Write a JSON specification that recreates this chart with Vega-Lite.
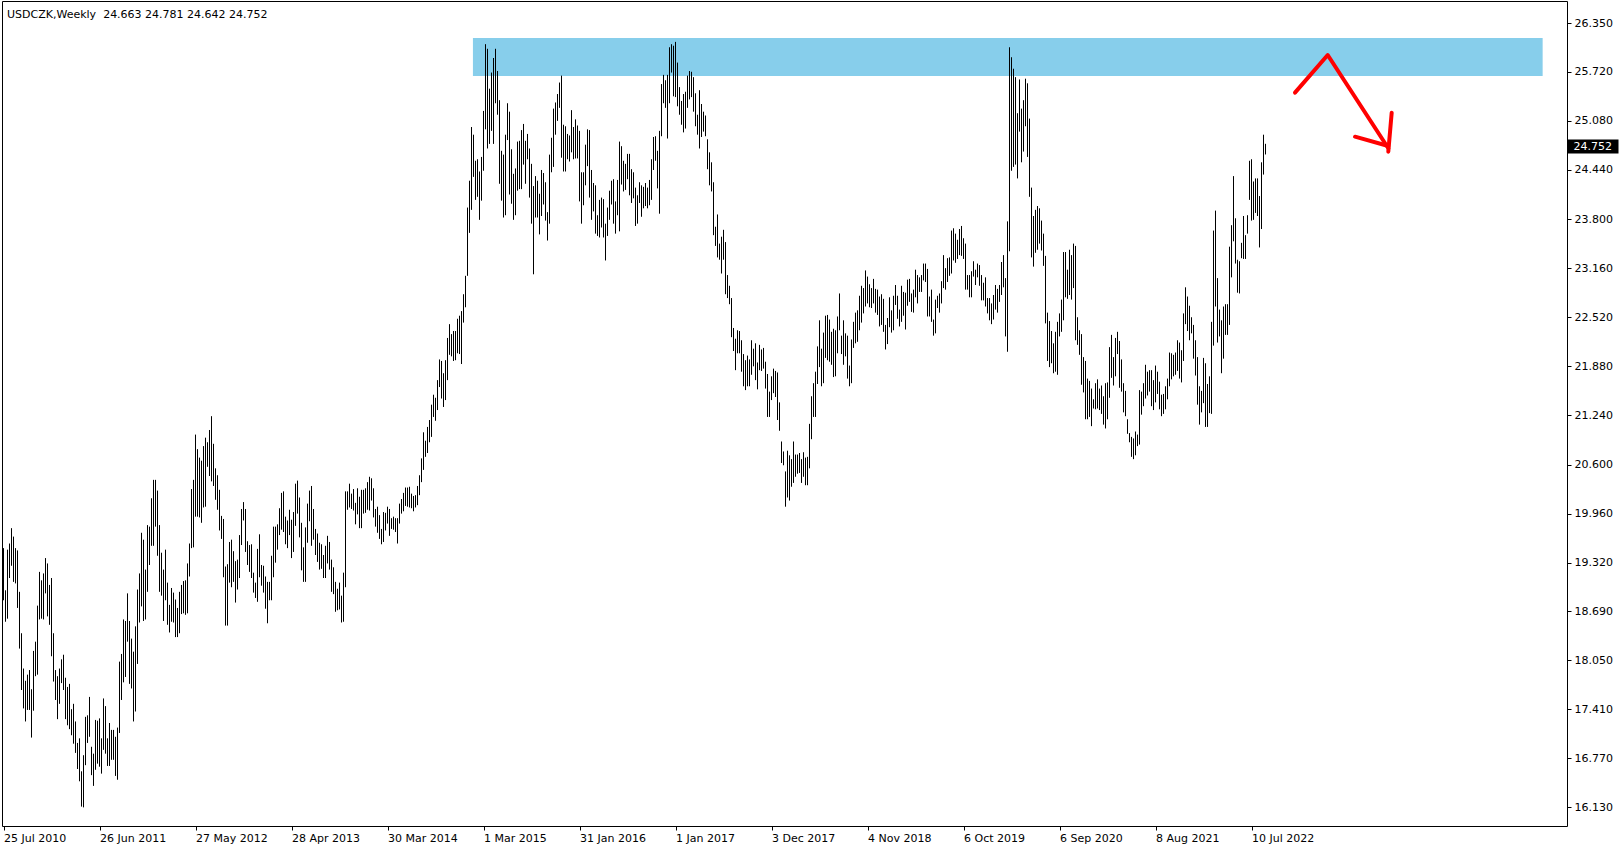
{
"$schema":"https://vega.github.io/schema/vega-lite/v6.json",
"width":1565,"height":825,
"autosize":{"type":"none"},
"padding":{"left":2,"top":1,"right":57,"bottom":24},
"background":"white",
"title":{"text":"USDCZK,Weekly\u00a0\u00a024.663 24.781 24.642 24.752","anchor":"start","frame":"group","orient":"top","offset":-16,"baseline":"alphabetic","dx":5,"dy":12,"font":"DejaVu Sans","fontSize":11,"fontWeight":"normal","color":"#000000"},
"datasets":{
"bars":[
{"d":"2010-07-25","h":19.51,"l":18.83},{"d":"2010-08-01","h":18.96,"l":18.55},{"d":"2010-08-08","h":19.49,"l":18.59},{"d":"2010-08-15","h":19.57,"l":19.12},{"d":"2010-08-22","h":19.77,"l":19.28},{"d":"2010-08-29","h":19.66,"l":19.07},{"d":"2010-09-05","h":19.51,"l":19.05},{"d":"2010-09-12","h":19.48,"l":18.73},{"d":"2010-09-19","h":18.94,"l":18.2},{"d":"2010-09-26","h":18.4,"l":17.66},
{"d":"2010-10-03","h":17.94,"l":17.42},{"d":"2010-10-10","h":17.78,"l":17.25},{"d":"2010-10-17","h":17.86,"l":17.4},{"d":"2010-10-24","h":17.92,"l":17.4},{"d":"2010-10-31","h":17.67,"l":17.04},{"d":"2010-11-07","h":18.17,"l":17.39},{"d":"2010-11-14","h":18.29,"l":17.84},{"d":"2010-11-21","h":18.76,"l":17.86},{"d":"2010-11-28","h":19.2,"l":18.58},{"d":"2010-12-05","h":19.09,"l":18.59},
{"d":"2010-12-12","h":19.18,"l":18.58},{"d":"2010-12-19","h":19.38,"l":18.92},{"d":"2010-12-26","h":19.31,"l":18.62},{"d":"2011-01-02","h":19.03,"l":18.51},{"d":"2011-01-09","h":19.12,"l":18.1},{"d":"2011-01-16","h":18.4,"l":17.77},{"d":"2011-01-23","h":17.92,"l":17.53},{"d":"2011-01-30","h":17.84,"l":17.28},{"d":"2011-02-06","h":17.94,"l":17.48},{"d":"2011-02-13","h":18.06,"l":17.75},
{"d":"2011-02-20","h":18.12,"l":17.66},{"d":"2011-02-27","h":17.82,"l":17.28},{"d":"2011-03-06","h":17.7,"l":17.2},{"d":"2011-03-13","h":17.74,"l":17.15},{"d":"2011-03-20","h":17.41,"l":17.07},{"d":"2011-03-27","h":17.48,"l":16.96},{"d":"2011-04-03","h":17.25,"l":16.84},{"d":"2011-04-10","h":16.97,"l":16.63},{"d":"2011-04-17","h":17.03,"l":16.47},{"d":"2011-04-24","h":16.6,"l":16.14},
{"d":"2011-05-01","h":16.81,"l":16.13},{"d":"2011-05-08","h":17.31,"l":16.68},{"d":"2011-05-15","h":17.33,"l":16.97},{"d":"2011-05-22","h":17.57,"l":17.05},{"d":"2011-05-29","h":16.92,"l":16.55},{"d":"2011-06-05","h":16.83,"l":16.41},{"d":"2011-06-12","h":17.27,"l":16.62},{"d":"2011-06-19","h":17.26,"l":16.7},{"d":"2011-06-26","h":17.29,"l":16.66},{"d":"2011-07-03","h":17.03,"l":16.57},
{"d":"2011-07-10","h":17.55,"l":16.88},{"d":"2011-07-17","h":17.45,"l":16.83},{"d":"2011-07-24","h":17.03,"l":16.67},{"d":"2011-07-31","h":17.23,"l":16.67},{"d":"2011-08-07","h":17.14,"l":16.75},{"d":"2011-08-14","h":17.14,"l":16.75},{"d":"2011-08-21","h":17.05,"l":16.54},{"d":"2011-08-28","h":17.17,"l":16.49},{"d":"2011-09-04","h":18.03,"l":17.1},{"d":"2011-09-11","h":18.13,"l":17.53},
{"d":"2011-09-18","h":18.58,"l":17.76},{"d":"2011-09-25","h":18.56,"l":17.83},{"d":"2011-10-02","h":18.92,"l":18.29},{"d":"2011-10-09","h":18.56,"l":17.74},{"d":"2011-10-16","h":18.33,"l":17.68},{"d":"2011-10-23","h":18.16,"l":17.25},{"d":"2011-10-30","h":18.49,"l":17.38},{"d":"2011-11-06","h":18.97,"l":18.0},{"d":"2011-11-13","h":19.18,"l":18.54},{"d":"2011-11-20","h":19.71,"l":18.75},
{"d":"2011-11-27","h":19.62,"l":18.56},{"d":"2011-12-04","h":19.23,"l":18.58},{"d":"2011-12-11","h":19.81,"l":18.94},{"d":"2011-12-18","h":19.79,"l":19.29},{"d":"2011-12-25","h":20.16,"l":19.54},{"d":"2012-01-01","h":20.4,"l":19.54},{"d":"2012-01-08","h":20.4,"l":19.79},{"d":"2012-01-15","h":20.26,"l":19.41},{"d":"2012-01-22","h":19.81,"l":18.94},{"d":"2012-01-29","h":19.45,"l":18.89},
{"d":"2012-02-05","h":19.23,"l":18.56},{"d":"2012-02-12","h":19.49,"l":18.83},{"d":"2012-02-19","h":19.06,"l":18.51},{"d":"2012-02-26","h":18.77,"l":18.41},{"d":"2012-03-04","h":18.99,"l":18.55},{"d":"2012-03-11","h":18.93,"l":18.54},{"d":"2012-03-18","h":18.84,"l":18.35},{"d":"2012-03-25","h":18.73,"l":18.35},{"d":"2012-04-01","h":18.94,"l":18.4},{"d":"2012-04-08","h":19.03,"l":18.65},
{"d":"2012-04-15","h":19.08,"l":18.66},{"d":"2012-04-22","h":19.09,"l":18.64},{"d":"2012-04-29","h":19.31,"l":18.66},{"d":"2012-05-06","h":19.57,"l":19.14},{"d":"2012-05-13","h":20.28,"l":19.51},{"d":"2012-05-20","h":20.4,"l":19.52},{"d":"2012-05-27","h":20.99,"l":19.92},{"d":"2012-06-03","h":20.8,"l":19.92},{"d":"2012-06-10","h":20.69,"l":19.91},{"d":"2012-06-17","h":20.65,"l":19.84},
{"d":"2012-06-24","h":20.84,"l":20.04},{"d":"2012-07-01","h":20.95,"l":20.05},{"d":"2012-07-08","h":20.89,"l":20.57},{"d":"2012-07-15","h":21.05,"l":20.45},{"d":"2012-07-22","h":21.23,"l":20.38},{"d":"2012-07-29","h":20.87,"l":20.32},{"d":"2012-08-05","h":20.55,"l":20.14},{"d":"2012-08-12","h":20.46,"l":20.01},{"d":"2012-08-19","h":20.27,"l":19.74},{"d":"2012-08-26","h":19.93,"l":19.63},
{"d":"2012-09-02","h":19.89,"l":19.13},{"d":"2012-09-09","h":19.27,"l":18.5},{"d":"2012-09-16","h":19.3,"l":18.5},{"d":"2012-09-23","h":19.59,"l":19.06},{"d":"2012-09-30","h":19.62,"l":19.0},{"d":"2012-10-07","h":19.47,"l":19.07},{"d":"2012-10-14","h":19.34,"l":18.8},{"d":"2012-10-21","h":19.36,"l":18.97},{"d":"2012-10-28","h":19.68,"l":19.12},{"d":"2012-11-04","h":20.02,"l":19.55},
{"d":"2012-11-11","h":20.11,"l":19.87},{"d":"2012-11-18","h":20.02,"l":19.46},{"d":"2012-11-25","h":19.6,"l":19.29},{"d":"2012-12-02","h":19.55,"l":19.2},{"d":"2012-12-09","h":19.56,"l":19.12},{"d":"2012-12-16","h":19.19,"l":18.93},{"d":"2012-12-23","h":19.06,"l":18.86},{"d":"2012-12-30","h":19.5,"l":18.81},{"d":"2013-01-06","h":19.69,"l":19.13},{"d":"2013-01-13","h":19.29,"l":19.02},
{"d":"2013-01-20","h":19.28,"l":18.93},{"d":"2013-01-27","h":19.14,"l":18.72},{"d":"2013-02-03","h":19.07,"l":18.53},{"d":"2013-02-10","h":19.07,"l":18.83},{"d":"2013-02-17","h":19.41,"l":18.83},{"d":"2013-02-24","h":19.79,"l":19.13},{"d":"2013-03-03","h":19.79,"l":19.32},{"d":"2013-03-10","h":19.82,"l":19.49},{"d":"2013-03-17","h":20.03,"l":19.68},{"d":"2013-03-24","h":20.23,"l":19.75},
{"d":"2013-03-31","h":20.25,"l":19.72},{"d":"2013-04-07","h":19.92,"l":19.56},{"d":"2013-04-14","h":19.87,"l":19.51},{"d":"2013-04-21","h":20.01,"l":19.68},{"d":"2013-04-28","h":19.88,"l":19.38},{"d":"2013-05-05","h":19.98,"l":19.46},{"d":"2013-05-12","h":20.35,"l":19.8},{"d":"2013-05-19","h":20.39,"l":19.96},{"d":"2013-05-26","h":20.17,"l":19.65},{"d":"2013-06-02","h":19.84,"l":19.22},
{"d":"2013-06-09","h":19.52,"l":19.07},{"d":"2013-06-16","h":19.78,"l":19.07},{"d":"2013-06-23","h":20.09,"l":19.58},{"d":"2013-06-30","h":20.26,"l":19.86},{"d":"2013-07-07","h":20.32,"l":19.54},{"d":"2013-07-14","h":20.02,"l":19.62},{"d":"2013-07-21","h":19.76,"l":19.42},{"d":"2013-07-28","h":19.7,"l":19.33},{"d":"2013-08-04","h":19.58,"l":19.23},{"d":"2013-08-11","h":19.56,"l":19.24},
{"d":"2013-08-18","h":19.42,"l":19.12},{"d":"2013-08-25","h":19.54,"l":19.12},{"d":"2013-09-01","h":19.67,"l":19.31},{"d":"2013-09-08","h":19.59,"l":19.23},{"d":"2013-09-15","h":19.36,"l":18.94},{"d":"2013-09-22","h":19.26,"l":18.91},{"d":"2013-09-29","h":19.07,"l":18.68},{"d":"2013-10-06","h":18.98,"l":18.7},{"d":"2013-10-13","h":19.06,"l":18.71},{"d":"2013-10-20","h":18.89,"l":18.54},
{"d":"2013-10-27","h":19.19,"l":18.55},{"d":"2013-11-03","h":20.25,"l":19.0},{"d":"2013-11-10","h":20.25,"l":20.01},{"d":"2013-11-17","h":20.35,"l":20.04},{"d":"2013-11-24","h":20.22,"l":20.02},{"d":"2013-12-01","h":20.28,"l":20.0},{"d":"2013-12-08","h":20.1,"l":19.82},{"d":"2013-12-15","h":20.29,"l":19.95},{"d":"2013-12-22","h":20.18,"l":19.77},{"d":"2013-12-29","h":20.27,"l":19.77},
{"d":"2014-01-05","h":20.27,"l":19.96},{"d":"2014-01-12","h":20.29,"l":19.97},{"d":"2014-01-19","h":20.37,"l":20.01},{"d":"2014-01-26","h":20.44,"l":20.0},{"d":"2014-02-02","h":20.42,"l":20.13},{"d":"2014-02-09","h":20.29,"l":19.91},{"d":"2014-02-16","h":20.02,"l":19.79},{"d":"2014-02-23","h":20.05,"l":19.71},{"d":"2014-03-02","h":19.94,"l":19.63},{"d":"2014-03-09","h":19.76,"l":19.56},
{"d":"2014-03-16","h":19.98,"l":19.59},{"d":"2014-03-23","h":19.97,"l":19.74},{"d":"2014-03-30","h":20.05,"l":19.83},{"d":"2014-04-06","h":20.02,"l":19.67},{"d":"2014-04-13","h":19.9,"l":19.76},{"d":"2014-04-20","h":19.92,"l":19.75},{"d":"2014-04-27","h":19.9,"l":19.72},{"d":"2014-05-04","h":19.9,"l":19.57},{"d":"2014-05-11","h":20.09,"l":19.83},{"d":"2014-05-18","h":20.15,"l":19.96},
{"d":"2014-05-25","h":20.23,"l":19.99},{"d":"2014-06-01","h":20.3,"l":20.06},{"d":"2014-06-08","h":20.3,"l":20.05},{"d":"2014-06-15","h":20.31,"l":20.04},{"d":"2014-06-22","h":20.22,"l":20.03},{"d":"2014-06-29","h":20.19,"l":19.99},{"d":"2014-07-06","h":20.2,"l":20.04},{"d":"2014-07-13","h":20.32,"l":20.07},{"d":"2014-07-20","h":20.46,"l":20.2},{"d":"2014-07-27","h":20.68,"l":20.37},
{"d":"2014-08-03","h":21.02,"l":20.53},{"d":"2014-08-10","h":20.91,"l":20.7},{"d":"2014-08-17","h":21.09,"l":20.75},{"d":"2014-08-24","h":21.18,"l":20.89},{"d":"2014-08-31","h":21.38,"l":20.96},{"d":"2014-09-07","h":21.51,"l":21.22},{"d":"2014-09-14","h":21.47,"l":21.17},{"d":"2014-09-21","h":21.7,"l":21.31},{"d":"2014-09-28","h":21.97,"l":21.61},{"d":"2014-10-05","h":21.95,"l":21.46},
{"d":"2014-10-12","h":21.79,"l":21.35},{"d":"2014-10-19","h":21.96,"l":21.44},{"d":"2014-10-26","h":22.25,"l":21.7},{"d":"2014-11-02","h":22.43,"l":22.03},{"d":"2014-11-09","h":22.3,"l":22.01},{"d":"2014-11-16","h":22.34,"l":21.95},{"d":"2014-11-23","h":22.34,"l":21.96},{"d":"2014-11-30","h":22.5,"l":22.05},{"d":"2014-12-07","h":22.54,"l":22.04},{"d":"2014-12-14","h":22.6,"l":21.91},
{"d":"2014-12-21","h":22.82,"l":22.45},{"d":"2014-12-28","h":23.06,"l":22.65},{"d":"2015-01-04","h":23.95,"l":23.06},{"d":"2015-01-11","h":24.3,"l":23.62},{"d":"2015-01-18","h":25.0,"l":23.92},{"d":"2015-01-25","h":24.9,"l":24.35},{"d":"2015-02-01","h":24.56,"l":24.05},{"d":"2015-02-08","h":24.58,"l":24.09},{"d":"2015-02-15","h":24.42,"l":23.79},{"d":"2015-02-22","h":24.61,"l":24.04},
{"d":"2015-03-01","h":25.21,"l":24.43},{"d":"2015-03-08","h":26.08,"l":24.97},{"d":"2015-03-15","h":26.02,"l":24.72},{"d":"2015-03-22","h":25.5,"l":24.78},{"d":"2015-03-29","h":25.71,"l":24.95},{"d":"2015-04-05","h":25.9,"l":24.78},{"d":"2015-04-12","h":26.02,"l":25.31},{"d":"2015-04-19","h":25.73,"l":25.16},{"d":"2015-04-26","h":25.35,"l":24.26},{"d":"2015-05-03","h":24.69,"l":24.04},
{"d":"2015-05-10","h":24.64,"l":23.82},{"d":"2015-05-17","h":24.9,"l":23.85},{"d":"2015-05-24","h":25.31,"l":24.83},{"d":"2015-05-31","h":25.2,"l":24.12},{"d":"2015-06-07","h":24.71,"l":24.0},{"d":"2015-06-14","h":24.39,"l":23.79},{"d":"2015-06-21","h":24.46,"l":23.85},{"d":"2015-06-28","h":24.81,"l":24.17},{"d":"2015-07-05","h":24.82,"l":24.19},{"d":"2015-07-12","h":24.96,"l":24.19},
{"d":"2015-07-19","h":25.04,"l":24.51},{"d":"2015-07-26","h":24.82,"l":24.26},{"d":"2015-08-02","h":24.91,"l":24.58},{"d":"2015-08-09","h":24.72,"l":24.08},{"d":"2015-08-16","h":24.52,"l":23.74},{"d":"2015-08-23","h":24.23,"l":23.08},{"d":"2015-08-30","h":24.36,"l":23.82},{"d":"2015-09-06","h":24.3,"l":23.82},{"d":"2015-09-13","h":24.13,"l":23.6},{"d":"2015-09-20","h":24.44,"l":23.84},
{"d":"2015-09-27","h":24.4,"l":23.99},{"d":"2015-10-04","h":24.28,"l":23.78},{"d":"2015-10-11","h":23.89,"l":23.52},{"d":"2015-10-18","h":24.64,"l":23.74},{"d":"2015-10-25","h":24.86,"l":24.41},{"d":"2015-11-01","h":25.24,"l":24.48},{"d":"2015-11-08","h":25.32,"l":24.9},{"d":"2015-11-15","h":25.43,"l":25.08},{"d":"2015-11-22","h":25.58,"l":25.25},{"d":"2015-11-29","h":25.67,"l":24.6},
{"d":"2015-12-06","h":25.03,"l":24.42},{"d":"2015-12-13","h":25.01,"l":24.42},{"d":"2015-12-20","h":24.91,"l":24.58},{"d":"2015-12-27","h":24.89,"l":24.55},{"d":"2016-01-03","h":25.22,"l":24.67},{"d":"2016-01-10","h":25.0,"l":24.58},{"d":"2016-01-17","h":25.1,"l":24.59},{"d":"2016-01-24","h":25.02,"l":24.59},{"d":"2016-01-31","h":24.95,"l":24.03},{"d":"2016-02-07","h":24.41,"l":23.74},
{"d":"2016-02-14","h":24.41,"l":23.98},{"d":"2016-02-21","h":24.77,"l":24.24},{"d":"2016-02-28","h":24.97,"l":24.49},{"d":"2016-03-06","h":24.96,"l":24.08},{"d":"2016-03-13","h":24.44,"l":23.79},{"d":"2016-03-20","h":24.27,"l":23.9},{"d":"2016-03-27","h":24.24,"l":23.61},{"d":"2016-04-03","h":23.85,"l":23.58},{"d":"2016-04-10","h":24.05,"l":23.56},{"d":"2016-04-17","h":24.08,"l":23.69},
{"d":"2016-04-24","h":24.06,"l":23.56},{"d":"2016-05-01","h":23.74,"l":23.26},{"d":"2016-05-08","h":23.95,"l":23.58},{"d":"2016-05-15","h":24.17,"l":23.79},{"d":"2016-05-22","h":24.3,"l":23.99},{"d":"2016-05-29","h":24.32,"l":23.74},{"d":"2016-06-05","h":24.03,"l":23.61},{"d":"2016-06-12","h":24.31,"l":23.85},{"d":"2016-06-19","h":24.81,"l":23.64},{"d":"2016-06-26","h":24.75,"l":24.25},
{"d":"2016-07-03","h":24.56,"l":24.16},{"d":"2016-07-10","h":24.52,"l":24.18},{"d":"2016-07-17","h":24.65,"l":24.32},{"d":"2016-07-24","h":24.65,"l":24.11},{"d":"2016-07-31","h":24.45,"l":24.01},{"d":"2016-08-07","h":24.41,"l":24.07},{"d":"2016-08-14","h":24.21,"l":23.71},{"d":"2016-08-21","h":24.11,"l":23.74},{"d":"2016-08-28","h":24.28,"l":24.01},{"d":"2016-09-04","h":24.24,"l":23.83},
{"d":"2016-09-11","h":24.22,"l":23.94},{"d":"2016-09-18","h":24.27,"l":23.97},{"d":"2016-09-25","h":24.21,"l":23.94},{"d":"2016-10-02","h":24.31,"l":23.98},{"d":"2016-10-09","h":24.58,"l":24.05},{"d":"2016-10-16","h":24.87,"l":24.44},{"d":"2016-10-23","h":24.88,"l":24.56},{"d":"2016-10-30","h":24.69,"l":24.2},{"d":"2016-11-06","h":24.95,"l":23.87},{"d":"2016-11-13","h":25.56,"l":24.88},
{"d":"2016-11-20","h":25.68,"l":25.31},{"d":"2016-11-27","h":25.61,"l":25.25},{"d":"2016-12-04","h":25.68,"l":24.85},{"d":"2016-12-11","h":26.04,"l":25.31},{"d":"2016-12-18","h":26.08,"l":25.71},{"d":"2016-12-25","h":26.06,"l":25.4},{"d":"2017-01-01","h":26.11,"l":25.39},{"d":"2017-01-08","h":25.84,"l":25.27},{"d":"2017-01-15","h":25.52,"l":25.16},{"d":"2017-01-22","h":25.34,"l":25.03},
{"d":"2017-01-29","h":25.43,"l":24.93},{"d":"2017-02-05","h":25.46,"l":24.98},{"d":"2017-02-12","h":25.67,"l":25.25},{"d":"2017-02-19","h":25.73,"l":25.36},{"d":"2017-02-26","h":25.72,"l":25.39},{"d":"2017-03-05","h":25.65,"l":25.2},{"d":"2017-03-12","h":25.44,"l":25.01},{"d":"2017-03-19","h":25.16,"l":24.9},{"d":"2017-03-26","h":25.48,"l":24.72},{"d":"2017-04-02","h":25.3,"l":24.87},
{"d":"2017-04-09","h":25.2,"l":24.94},{"d":"2017-04-16","h":25.15,"l":24.88},{"d":"2017-04-23","h":24.84,"l":24.45},{"d":"2017-04-30","h":24.67,"l":24.24},{"d":"2017-05-07","h":24.54,"l":24.16},{"d":"2017-05-14","h":24.28,"l":23.59},{"d":"2017-05-21","h":23.7,"l":23.45},{"d":"2017-05-28","h":23.86,"l":23.3},{"d":"2017-06-04","h":23.48,"l":23.27},{"d":"2017-06-11","h":23.57,"l":23.09},
{"d":"2017-06-18","h":23.66,"l":23.27},{"d":"2017-06-25","h":23.5,"l":22.82},{"d":"2017-07-02","h":23.07,"l":22.77},{"d":"2017-07-09","h":22.93,"l":22.69},{"d":"2017-07-16","h":22.77,"l":22.26},{"d":"2017-07-23","h":22.38,"l":22.08},{"d":"2017-07-30","h":22.24,"l":21.83},{"d":"2017-08-06","h":22.35,"l":22.05},{"d":"2017-08-13","h":22.34,"l":22.05},{"d":"2017-08-20","h":22.22,"l":21.81},
{"d":"2017-08-27","h":22.04,"l":21.62},{"d":"2017-09-03","h":21.96,"l":21.57},{"d":"2017-09-10","h":22.02,"l":21.62},{"d":"2017-09-17","h":21.97,"l":21.62},{"d":"2017-09-24","h":22.22,"l":21.77},{"d":"2017-10-01","h":22.11,"l":21.88},{"d":"2017-10-08","h":22.18,"l":21.7},{"d":"2017-10-15","h":21.93,"l":21.58},{"d":"2017-10-22","h":22.16,"l":21.83},{"d":"2017-10-29","h":22.1,"l":21.82},
{"d":"2017-11-05","h":22.12,"l":21.85},{"d":"2017-11-12","h":21.94,"l":21.59},{"d":"2017-11-19","h":21.78,"l":21.22},{"d":"2017-11-26","h":21.55,"l":21.22},{"d":"2017-12-03","h":21.75,"l":21.44},{"d":"2017-12-10","h":21.85,"l":21.53},{"d":"2017-12-17","h":21.82,"l":21.48},{"d":"2017-12-24","h":21.8,"l":21.18},{"d":"2017-12-31","h":21.41,"l":21.04},{"d":"2018-01-07","h":20.9,"l":20.62},
{"d":"2018-01-14","h":20.77,"l":20.59},{"d":"2018-01-21","h":20.51,"l":20.05},{"d":"2018-01-28","h":20.78,"l":20.17},{"d":"2018-02-04","h":20.72,"l":20.13},{"d":"2018-02-11","h":20.67,"l":20.31},{"d":"2018-02-18","h":20.9,"l":20.36},{"d":"2018-02-25","h":20.73,"l":20.44},{"d":"2018-03-04","h":20.73,"l":20.48},{"d":"2018-03-11","h":20.75,"l":20.49},{"d":"2018-03-18","h":20.67,"l":20.36},
{"d":"2018-03-25","h":20.76,"l":20.44},{"d":"2018-04-01","h":20.69,"l":20.33},{"d":"2018-04-08","h":20.7,"l":20.33},{"d":"2018-04-15","h":21.13,"l":20.55},{"d":"2018-04-22","h":21.49,"l":20.93},{"d":"2018-04-29","h":21.66,"l":21.22},{"d":"2018-05-06","h":21.81,"l":21.22},{"d":"2018-05-13","h":22.14,"l":21.65},{"d":"2018-05-20","h":22.48,"l":21.87},{"d":"2018-05-27","h":22.11,"l":21.62},
{"d":"2018-06-03","h":22.32,"l":21.66},{"d":"2018-06-10","h":22.54,"l":21.99},{"d":"2018-06-17","h":22.55,"l":21.96},{"d":"2018-06-24","h":22.49,"l":21.94},{"d":"2018-07-01","h":22.33,"l":21.9},{"d":"2018-07-08","h":22.37,"l":21.74},{"d":"2018-07-15","h":22.35,"l":21.75},{"d":"2018-07-22","h":22.53,"l":22.05},{"d":"2018-07-29","h":22.83,"l":22.35},{"d":"2018-08-05","h":22.28,"l":22.04},
{"d":"2018-08-12","h":22.48,"l":21.9},{"d":"2018-08-19","h":22.31,"l":22.01},{"d":"2018-08-26","h":22.28,"l":21.72},{"d":"2018-09-02","h":21.89,"l":21.62},{"d":"2018-09-09","h":22.23,"l":21.66},{"d":"2018-09-16","h":22.46,"l":22.12},{"d":"2018-09-23","h":22.58,"l":22.18},{"d":"2018-09-30","h":22.61,"l":22.2},{"d":"2018-10-07","h":22.8,"l":22.35},{"d":"2018-10-14","h":22.93,"l":22.45},
{"d":"2018-10-21","h":22.9,"l":22.57},{"d":"2018-10-28","h":23.13,"l":22.66},{"d":"2018-11-04","h":23.05,"l":22.7},{"d":"2018-11-11","h":22.95,"l":22.65},{"d":"2018-11-18","h":22.9,"l":22.64},{"d":"2018-11-25","h":23.02,"l":22.7},{"d":"2018-12-02","h":22.89,"l":22.58},{"d":"2018-12-09","h":22.88,"l":22.55},{"d":"2018-12-16","h":22.79,"l":22.4},{"d":"2018-12-23","h":22.82,"l":22.42},
{"d":"2018-12-30","h":22.76,"l":22.33},{"d":"2019-01-06","h":22.42,"l":22.1},{"d":"2019-01-13","h":22.51,"l":22.17},{"d":"2019-01-20","h":22.78,"l":22.39},{"d":"2019-01-27","h":22.61,"l":22.32},{"d":"2019-02-03","h":22.8,"l":22.35},{"d":"2019-02-10","h":22.94,"l":22.68},{"d":"2019-02-17","h":22.8,"l":22.5},{"d":"2019-02-24","h":22.62,"l":22.4},{"d":"2019-03-03","h":22.93,"l":22.46},
{"d":"2019-03-10","h":22.85,"l":22.54},{"d":"2019-03-17","h":22.84,"l":22.36},{"d":"2019-03-24","h":23.01,"l":22.67},{"d":"2019-03-31","h":23.02,"l":22.72},{"d":"2019-04-07","h":22.83,"l":22.59},{"d":"2019-04-14","h":22.88,"l":22.58},{"d":"2019-04-21","h":23.14,"l":22.78},{"d":"2019-04-28","h":23.07,"l":22.7},{"d":"2019-05-05","h":23.04,"l":22.85},{"d":"2019-05-12","h":23.07,"l":22.85},
{"d":"2019-05-19","h":23.22,"l":23.0},{"d":"2019-05-26","h":23.22,"l":22.98},{"d":"2019-06-02","h":23.15,"l":22.53},{"d":"2019-06-09","h":22.79,"l":22.53},{"d":"2019-06-16","h":22.88,"l":22.46},{"d":"2019-06-23","h":22.49,"l":22.28},{"d":"2019-06-30","h":22.75,"l":22.31},{"d":"2019-07-07","h":22.8,"l":22.64},{"d":"2019-07-14","h":22.83,"l":22.58},{"d":"2019-07-21","h":22.99,"l":22.7},
{"d":"2019-07-28","h":23.33,"l":22.9},{"d":"2019-08-04","h":23.16,"l":22.88},{"d":"2019-08-11","h":23.29,"l":22.98},{"d":"2019-08-18","h":23.3,"l":23.06},{"d":"2019-08-25","h":23.65,"l":23.09},{"d":"2019-09-01","h":23.68,"l":23.26},{"d":"2019-09-08","h":23.61,"l":23.23},{"d":"2019-09-15","h":23.53,"l":23.28},{"d":"2019-09-22","h":23.67,"l":23.33},{"d":"2019-09-29","h":23.71,"l":23.32},
{"d":"2019-10-06","h":23.55,"l":23.28},{"d":"2019-10-13","h":23.48,"l":22.88},{"d":"2019-10-20","h":23.07,"l":22.88},{"d":"2019-10-27","h":23.07,"l":22.78},{"d":"2019-11-03","h":23.12,"l":22.78},{"d":"2019-11-10","h":23.25,"l":23.05},{"d":"2019-11-17","h":23.14,"l":22.94},{"d":"2019-11-24","h":23.22,"l":23.04},{"d":"2019-12-01","h":23.2,"l":22.93},{"d":"2019-12-08","h":23.07,"l":22.74},
{"d":"2019-12-15","h":22.97,"l":22.74},{"d":"2019-12-22","h":23.04,"l":22.66},{"d":"2019-12-29","h":22.77,"l":22.57},{"d":"2020-01-05","h":22.77,"l":22.48},{"d":"2020-01-12","h":22.7,"l":22.43},{"d":"2020-01-19","h":22.81,"l":22.49},{"d":"2020-01-26","h":22.94,"l":22.62},{"d":"2020-02-02","h":22.89,"l":22.58},{"d":"2020-02-09","h":22.94,"l":22.72},{"d":"2020-02-16","h":23.24,"l":22.81},
{"d":"2020-02-23","h":23.33,"l":22.91},{"d":"2020-03-01","h":23.03,"l":22.27},{"d":"2020-03-08","h":23.77,"l":22.07},{"d":"2020-03-15","h":26.04,"l":23.38},{"d":"2020-03-22","h":25.91,"l":24.43},{"d":"2020-03-29","h":25.76,"l":24.48},{"d":"2020-04-05","h":25.65,"l":24.51},{"d":"2020-04-12","h":25.18,"l":24.33},{"d":"2020-04-19","h":25.62,"l":24.94},{"d":"2020-04-26","h":25.24,"l":24.54},
{"d":"2020-05-03","h":25.35,"l":24.68},{"d":"2020-05-10","h":25.63,"l":25.01},{"d":"2020-05-17","h":25.57,"l":24.61},{"d":"2020-05-24","h":25.11,"l":24.09},{"d":"2020-05-31","h":24.21,"l":23.3},{"d":"2020-06-07","h":23.84,"l":23.18},{"d":"2020-06-14","h":23.92,"l":23.36},{"d":"2020-06-21","h":23.97,"l":23.4},{"d":"2020-06-28","h":23.94,"l":23.48},{"d":"2020-07-05","h":23.78,"l":23.39},
{"d":"2020-07-12","h":23.61,"l":23.19},{"d":"2020-07-19","h":23.32,"l":22.44},{"d":"2020-07-26","h":22.58,"l":21.95},{"d":"2020-08-02","h":22.47,"l":21.87},{"d":"2020-08-09","h":22.34,"l":21.92},{"d":"2020-08-16","h":22.18,"l":21.79},{"d":"2020-08-23","h":22.33,"l":21.81},{"d":"2020-08-30","h":22.46,"l":21.77},{"d":"2020-09-06","h":22.57,"l":22.27},{"d":"2020-09-13","h":22.75,"l":22.33},
{"d":"2020-09-20","h":23.37,"l":22.48},{"d":"2020-09-27","h":23.37,"l":22.78},{"d":"2020-10-04","h":23.14,"l":22.76},{"d":"2020-10-11","h":23.4,"l":22.81},{"d":"2020-10-18","h":23.33,"l":22.75},{"d":"2020-10-25","h":23.48,"l":22.9},{"d":"2020-11-01","h":23.45,"l":22.22},{"d":"2020-11-08","h":22.52,"l":22.16},{"d":"2020-11-15","h":22.35,"l":22.03},{"d":"2020-11-22","h":22.3,"l":21.64},
{"d":"2020-11-29","h":22.0,"l":21.54},{"d":"2020-12-06","h":21.95,"l":21.19},{"d":"2020-12-13","h":21.72,"l":21.19},{"d":"2020-12-20","h":21.69,"l":21.22},{"d":"2020-12-27","h":21.59,"l":21.1},{"d":"2021-01-03","h":21.45,"l":21.33},{"d":"2021-01-10","h":21.66,"l":21.32},{"d":"2021-01-17","h":21.71,"l":21.33},{"d":"2021-01-24","h":21.59,"l":21.31},{"d":"2021-01-31","h":21.63,"l":21.26},
{"d":"2021-02-07","h":21.49,"l":21.12},{"d":"2021-02-14","h":21.66,"l":21.07},{"d":"2021-02-21","h":21.67,"l":21.19},{"d":"2021-02-28","h":22.13,"l":21.47},{"d":"2021-03-07","h":22.29,"l":21.73},{"d":"2021-03-14","h":22.0,"l":21.63},{"d":"2021-03-21","h":22.25,"l":21.75},{"d":"2021-03-28","h":22.33,"l":22.04},{"d":"2021-04-04","h":22.21,"l":21.6},{"d":"2021-04-11","h":21.97,"l":21.55},
{"d":"2021-04-18","h":21.66,"l":21.28},{"d":"2021-04-25","h":21.56,"l":21.23},{"d":"2021-05-02","h":21.19,"l":21.0},{"d":"2021-05-09","h":21.01,"l":20.89},{"d":"2021-05-16","h":20.96,"l":20.7},{"d":"2021-05-23","h":20.94,"l":20.67},{"d":"2021-05-30","h":21.03,"l":20.72},{"d":"2021-06-06","h":20.99,"l":20.84},{"d":"2021-06-13","h":21.57,"l":20.86},{"d":"2021-06-20","h":21.55,"l":21.25},
{"d":"2021-06-27","h":21.66,"l":21.36},{"d":"2021-07-04","h":21.9,"l":21.46},{"d":"2021-07-11","h":21.81,"l":21.5},{"d":"2021-07-18","h":21.83,"l":21.55},{"d":"2021-07-25","h":21.83,"l":21.36},{"d":"2021-08-01","h":21.7,"l":21.31},{"d":"2021-08-08","h":21.89,"l":21.41},{"d":"2021-08-15","h":21.81,"l":21.52},{"d":"2021-08-22","h":21.68,"l":21.32},{"d":"2021-08-29","h":21.51,"l":21.23},
{"d":"2021-09-05","h":21.52,"l":21.26},{"d":"2021-09-12","h":21.62,"l":21.32},{"d":"2021-09-19","h":21.72,"l":21.45},{"d":"2021-09-26","h":22.06,"l":21.62},{"d":"2021-10-03","h":22.05,"l":21.71},{"d":"2021-10-10","h":22.03,"l":21.75},{"d":"2021-10-17","h":22.06,"l":21.77},{"d":"2021-10-24","h":22.22,"l":21.82},{"d":"2021-10-31","h":22.19,"l":21.72},{"d":"2021-11-07","h":22.09,"l":21.67},
{"d":"2021-11-14","h":22.57,"l":21.95},{"d":"2021-11-21","h":22.91,"l":22.43},{"d":"2021-11-28","h":22.79,"l":22.34},{"d":"2021-12-05","h":22.67,"l":22.22},{"d":"2021-12-12","h":22.52,"l":22.31},{"d":"2021-12-19","h":22.42,"l":21.98},{"d":"2021-12-26","h":22.22,"l":21.76},{"d":"2022-01-02","h":22.0,"l":21.38},{"d":"2022-01-09","h":21.62,"l":21.12},{"d":"2022-01-16","h":21.56,"l":21.28},
{"d":"2022-01-23","h":21.99,"l":21.4},{"d":"2022-01-30","h":21.92,"l":21.09},{"d":"2022-02-06","h":21.65,"l":21.09},{"d":"2022-02-13","h":21.75,"l":21.27},{"d":"2022-02-20","h":22.46,"l":21.26},{"d":"2022-02-27","h":23.65,"l":22.15},{"d":"2022-03-06","h":23.91,"l":22.66},{"d":"2022-03-13","h":23.03,"l":22.19},{"d":"2022-03-20","h":22.62,"l":22.27},{"d":"2022-03-27","h":22.48,"l":21.79},
{"d":"2022-04-03","h":22.66,"l":21.98},{"d":"2022-04-10","h":22.69,"l":22.29},{"d":"2022-04-17","h":22.69,"l":22.29},{"d":"2022-04-24","h":23.44,"l":22.42},{"d":"2022-05-01","h":23.72,"l":23.04},{"d":"2022-05-08","h":24.36,"l":23.51},{"d":"2022-05-15","h":23.81,"l":23.22},{"d":"2022-05-22","h":23.27,"l":22.84},{"d":"2022-05-29","h":23.25,"l":22.83},{"d":"2022-06-05","h":23.49,"l":23.29},
{"d":"2022-06-12","h":23.84,"l":23.28},{"d":"2022-06-19","h":23.59,"l":23.28},{"d":"2022-06-26","h":23.85,"l":23.61},{"d":"2022-07-03","h":24.56,"l":24.05},{"d":"2022-07-10","h":24.58,"l":23.78},{"d":"2022-07-17","h":24.29,"l":23.79},{"d":"2022-07-24","h":24.33,"l":23.88},{"d":"2022-07-31","h":24.33,"l":23.84},{"d":"2022-08-07","h":24.1,"l":23.43},{"d":"2022-08-14","h":24.54,"l":23.67},
{"d":"2022-08-21","h":24.9,"l":24.38},{"d":"2022-08-28","h":24.781,"l":24.642}
],
"zone":[{"a":"2015-01-23","b":"2025-04-24","top":26.16,"bottom":25.666}],
"arrow":[
{"s":1,"o":1,"t":"2022-12-09T06:00:00Z","p":25.448},{"s":1,"o":2,"t":"2023-04-02T17:00:00Z","p":25.939},{"s":1,"o":3,"t":"2023-10-31T19:00:00Z","p":24.723},
{"s":2,"o":1,"t":"2023-07-07T06:00:00Z","p":24.874},{"s":2,"o":2,"t":"2023-10-31T19:00:00Z","p":24.753},
{"s":3,"o":1,"t":"2023-11-12T17:00:00Z","p":25.187},{"s":3,"o":2,"t":"2023-10-31T19:00:00Z","p":24.679}
],
"last":[{"p":24.752}]
},
"layer":[
{"layer":[
{"data":{"name":"zone"},"mark":{"type":"rect","color":"#87CEEB","opacity":1},
 "encoding":{
  "x":{"field":"a","type":"temporal","scale":{"type":"utc","domain":[1279562400000,1752818400000],"nice":false},
   "axis":{"values":[{"year":2010,"month":7,"date":25,"utc":true},{"year":2011,"month":6,"date":26,"utc":true},{"year":2012,"month":5,"date":27,"utc":true},{"year":2013,"month":4,"date":28,"utc":true},{"year":2014,"month":3,"date":30,"utc":true},{"year":2015,"month":3,"date":1,"utc":true},{"year":2016,"month":1,"date":31,"utc":true},{"year":2017,"month":1,"date":1,"utc":true},{"year":2017,"month":12,"date":3,"utc":true},{"year":2018,"month":11,"date":4,"utc":true},{"year":2019,"month":10,"date":6,"utc":true},{"year":2020,"month":9,"date":6,"utc":true},{"year":2021,"month":8,"date":8,"utc":true},{"year":2022,"month":7,"date":10,"utc":true}],
    "format":"%-d %b %Y","labelAlign":"left","labelBaseline":"top","labelPadding":2,"tickSize":4,"tickColor":"#000000","domain":false,"grid":false,"labelFont":"DejaVu Sans","labelFontSize":11,"labelColor":"#000000","title":null,"labelOverlap":false,"labelFlush":false,"labelBound":false}},
  "x2":{"field":"b"},
  "y":{"field":"top","type":"quantitative","scale":{"domain":[15.887,26.643],"nice":false,"zero":false},
   "axis":{"orient":"right","values":[16.13,16.77,17.41,18.05,18.69,19.32,19.96,20.6,21.24,21.88,22.52,23.16,23.8,24.44,25.08,25.72,26.35],"format":".3f","tickSize":4,"tickColor":"#000000","labelPadding":3,"domain":false,"grid":false,"labelFont":"DejaVu Sans","labelFontSize":11,"labelColor":"#000000","title":null,"labelOverlap":false,"labelFlush":false,"labelBound":false}},
  "y2":{"field":"bottom"}}},
{"data":{"name":"bars"},"mark":{"type":"rule","color":"#000000","strokeWidth":1},
 "encoding":{"x":{"field":"d","type":"temporal"},"y":{"field":"h","type":"quantitative"},"y2":{"field":"l"}}},
{"data":{"name":"arrow"},"mark":{"type":"line","color":"#FF0000","strokeWidth":4,"strokeCap":"round","strokeJoin":"round"},
 "encoding":{"x":{"field":"t","type":"temporal"},"y":{"field":"p","type":"quantitative"},"detail":{"field":"s","type":"nominal"},"order":{"field":"o","type":"quantitative"}}}
]},
{"data":{"name":"last"},"mark":{"type":"point","opacity":0},
 "encoding":{"y":{"field":"p","type":"quantitative","scale":{"domain":[15.887,26.643],"nice":false,"zero":false},
  "axis":{"orient":"right","values":[24.752],"format":".3f","tickSize":51,"tickWidth":14,"tickColor":"#000000","labelColor":"#FFFFFF","labelPadding":-45,"domain":false,"grid":false,"labelFont":"DejaVu Sans","labelFontSize":11,"title":null,"labelFlush":false,"labelBound":false,"labelOverlap":false,"zindex":1}}}}
],
"resolve":{"scale":{"y":"independent"}},
"config":{"view":{"stroke":"#000000","strokeWidth":1},"font":"DejaVu Sans"}
}
